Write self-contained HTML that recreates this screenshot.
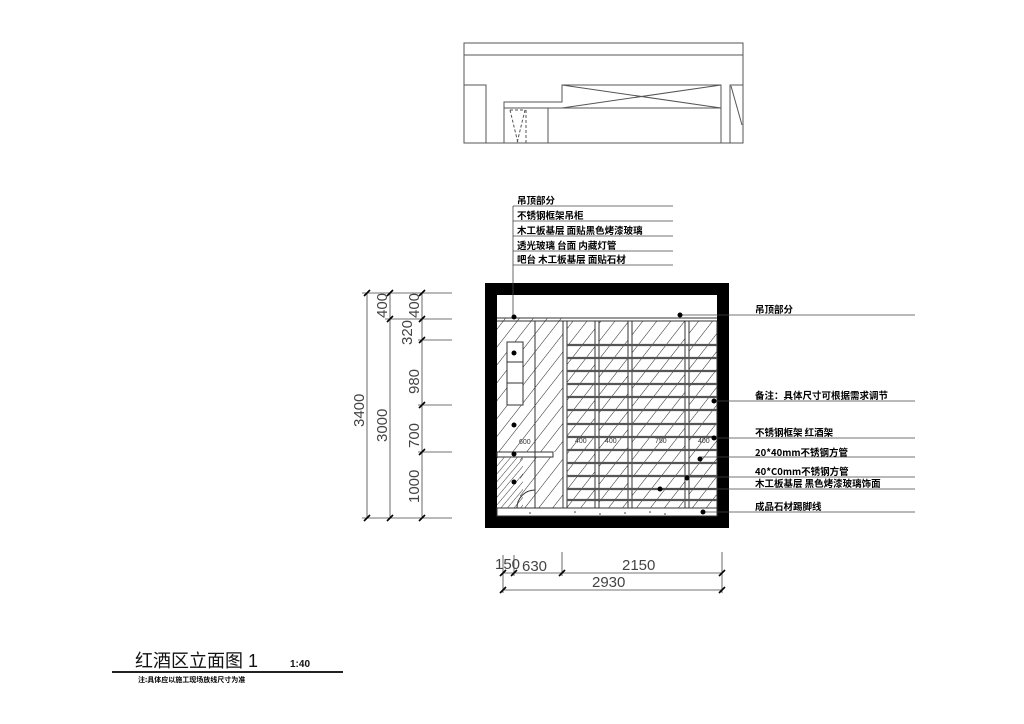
<!DOCTYPE html>
<html><head><meta charset="utf-8"><style>
html,body{margin:0;padding:0;background:#fff;}
svg{display:block}
text{font-family:"Liberation Sans","Noto Sans CJK SC",sans-serif;}
.cn{font-family:"Noto Sans CJK SC","Noto Serif CJK SC",sans-serif;font-weight:bold;font-size:9.5px;fill:#000}
.dim{font-size:15px;fill:#444}
</style></head><body>
<svg width="1024" height="724" viewBox="0 0 1024 724" xmlns="http://www.w3.org/2000/svg">
<defs>
<pattern id="h" width="11" height="11" patternUnits="userSpaceOnUse" patternTransform="rotate(38)"><line x1="0" y1="0" x2="0" y2="11" stroke="#222" stroke-width="1"/></pattern>
<pattern id="hd" width="5" height="5" patternUnits="userSpaceOnUse" patternTransform="rotate(40)"><line x1="0" y1="0" x2="0" y2="5" stroke="#222" stroke-width="0.9"/></pattern>
</defs>
<rect width="1024" height="724" fill="#fff"/>
<g stroke="#555" stroke-width="1" fill="none">
<rect x="464" y="43" width="279" height="100"/>
<line x1="464" y1="55" x2="743" y2="55"/>
<polyline points="464,85 486,85 486,143"/>
<polyline points="504,143 504,102 562,102 562,85 721,85 721,143"/>
<line x1="562" y1="108" x2="721" y2="108"/>
<line x1="562" y1="85" x2="721" y2="108"/><line x1="562" y1="108" x2="721" y2="85"/>
<line x1="548" y1="108" x2="548" y2="143"/>
<line x1="504" y1="108" x2="562" y2="108"/>
<polyline points="730,143 730,85 743,85"/>
<line x1="731" y1="86" x2="742" y2="125"/>
<g stroke-dasharray="3,2"><line x1="510" y1="110" x2="518" y2="143"/><line x1="525" y1="110" x2="517" y2="143"/><line x1="510" y1="110" x2="525" y2="110"/><line x1="526" y1="110" x2="526" y2="143"/></g>
</g>
<rect x="485" y="283" width="244" height="245" fill="#000"/>
<rect x="497" y="295" width="220" height="221" fill="#fff"/>
<rect x="497" y="318" width="68" height="134" fill="url(#h)"/>
<rect x="520" y="457" width="45" height="51" fill="url(#h)"/>
<rect x="497" y="457" width="26" height="51" fill="url(#hd)"/>
<rect x="565" y="321" width="152" height="187" fill="url(#h)"/>
<g stroke="#333" stroke-width="1" fill="none">
<line x1="497" y1="318" x2="717" y2="318"/>
<line x1="497" y1="321" x2="717" y2="321"/>
<rect x="507" y="342" width="16" height="63" fill="#fff"/>
<line x1="507" y1="362" x2="523" y2="362"/><line x1="507" y1="383" x2="523" y2="383"/>
<rect x="497" y="452" width="56" height="5" fill="#fff"/>
<path d="M517,508 A18,18 0 0 1 535,490" />
<line x1="535" y1="321" x2="535" y2="508"/>
</g>
<g stroke="#333" stroke-width="1">
<rect x="563" y="321" width="4" height="187" fill="#fff"/>
<rect x="595" y="321" width="4" height="187" fill="#fff"/>
<rect x="628" y="321" width="4" height="187" fill="#fff"/>
<rect x="685" y="321" width="4" height="187" fill="#fff"/>
<line x1="717" y1="321" x2="717" y2="508"/>
</g>
<g stroke="#555" stroke-width="2.2">
<line x1="567" y1="345" x2="717" y2="345"/><line x1="567" y1="358" x2="717" y2="358"/>
<line x1="567" y1="371" x2="717" y2="371"/><line x1="567" y1="384" x2="717" y2="384"/>
<line x1="567" y1="397" x2="717" y2="397"/><line x1="567" y1="410" x2="717" y2="410"/>
<line x1="567" y1="424" x2="717" y2="424"/><line x1="567" y1="437" x2="717" y2="437"/>
<line x1="567" y1="450" x2="717" y2="450"/><line x1="567" y1="463" x2="717" y2="463"/>
<line x1="567" y1="476" x2="717" y2="476"/><line x1="567" y1="489" x2="717" y2="489"/>
<line x1="567" y1="500" x2="717" y2="500"/>
</g>
<rect x="497" y="508" width="220" height="8" fill="#fff" stroke="#333" stroke-width="1"/>
<g fill="#333"><circle cx="530" cy="513" r="0.8"/><circle cx="575" cy="512" r="0.8"/><circle cx="600" cy="514" r="0.8"/><circle cx="625" cy="513" r="0.8"/><circle cx="650" cy="512" r="0.8"/><circle cx="665" cy="514" r="0.8"/></g>
<g font-size="7" fill="#333"><text x="575" y="443">400</text><text x="605" y="443">400</text><text x="655" y="443">750</text><text x="698" y="443">400</text><text x="519" y="444">600</text></g>
<g stroke="#444" stroke-width="0.8">
<line x1="513" y1="206" x2="513" y2="318"/>
<line x1="513" y1="206" x2="673" y2="206"/><line x1="513" y1="221" x2="673" y2="221"/>
<line x1="513" y1="236" x2="673" y2="236"/><line x1="513" y1="251" x2="673" y2="251"/>
<line x1="513" y1="265" x2="673" y2="265"/>
</g>
<g fill="#000"><circle cx="514" cy="317" r="2.5"/><circle cx="514" cy="353" r="2.5"/><circle cx="514" cy="425" r="2.5"/><circle cx="514" cy="454" r="2.5"/><circle cx="514" cy="482" r="2.5"/></g>
<text class="cn" x="517" y="204">吊顶部分</text>
<text class="cn" x="517" y="219">不锈钢框架吊柜</text>
<text class="cn" x="517" y="234">木工板基层 面贴黑色烤漆玻璃</text>
<text class="cn" x="517" y="249">透光玻璃 台面 内藏灯管</text>
<text class="cn" x="517" y="263">吧台 木工板基层 面贴石材</text>
<g stroke="#444" stroke-width="0.8">
<line x1="680" y1="315" x2="915" y2="315"/>
<line x1="714" y1="401" x2="915" y2="401"/>
<line x1="714" y1="438" x2="915" y2="438"/>
<line x1="700" y1="457" x2="915" y2="457"/>
<line x1="687" y1="477" x2="915" y2="477"/>
<line x1="663" y1="489" x2="915" y2="489"/>
<line x1="703" y1="512" x2="915" y2="512"/>
</g>
<g fill="#000"><circle cx="680" cy="315" r="2.5"/><circle cx="714" cy="401" r="2.5"/><circle cx="714" cy="438" r="2.5"/><circle cx="700" cy="459" r="2.5"/><circle cx="687" cy="478" r="2.5"/><circle cx="660" cy="489" r="2.5"/><circle cx="703" cy="512" r="2.5"/></g>
<text class="cn" x="755" y="313">吊顶部分</text>
<text class="cn" x="755" y="399">备注：具体尺寸可根据需求调节</text>
<text class="cn" x="755" y="436">不锈钢框架  红酒架</text>
<text class="cn" x="755" y="456">20*40mm不锈钢方管</text>
<text class="cn" x="755" y="475">40*C0mm不锈钢方管</text>
<text class="cn" x="755" y="487">木工板基层  黑色烤漆玻璃饰面</text>
<text class="cn" x="755" y="510">成品石材踢脚线</text>
<g stroke="#444" stroke-width="0.8">
<line x1="367" y1="293" x2="367" y2="518"/><line x1="390" y1="293" x2="390" y2="518"/><line x1="422" y1="293" x2="422" y2="518"/>
<line x1="362" y1="293" x2="452" y2="293"/><line x1="385" y1="319" x2="452" y2="319"/>
<line x1="418" y1="340" x2="452" y2="340"/><line x1="418" y1="405" x2="452" y2="405"/>
<line x1="418" y1="452" x2="452" y2="452"/><line x1="362" y1="518" x2="452" y2="518"/>
</g>
<g stroke="#000" stroke-width="1.6">
<line x1="364" y1="296" x2="370" y2="290"/><line x1="387" y1="296" x2="393" y2="290"/><line x1="419" y1="296" x2="425" y2="290"/>
<line x1="387" y1="322" x2="393" y2="316"/><line x1="419" y1="322" x2="425" y2="316"/>
<line x1="419" y1="343" x2="425" y2="337"/><line x1="419" y1="408" x2="425" y2="402"/><line x1="419" y1="455" x2="425" y2="449"/>
<line x1="364" y1="521" x2="370" y2="515"/><line x1="387" y1="521" x2="393" y2="515"/><line x1="419" y1="521" x2="425" y2="515"/>
</g>
<g class="dim">
<text transform="translate(364,427) rotate(-90)">3400</text>
<text transform="translate(387,442) rotate(-90)">3000</text>
<text transform="translate(387,318) rotate(-90)">400</text>
<text transform="translate(419,318) rotate(-90)">400</text>
<text transform="translate(412,345) rotate(-90)">320</text>
<text transform="translate(419,394) rotate(-90)">980</text>
<text transform="translate(419,448) rotate(-90)">700</text>
<text transform="translate(419,503) rotate(-90)">1000</text>
</g>
<g stroke="#444" stroke-width="0.8">
<line x1="503" y1="573" x2="722" y2="573"/><line x1="503" y1="590" x2="722" y2="590"/>
<line x1="503" y1="555" x2="503" y2="593"/><line x1="514" y1="555" x2="514" y2="576"/>
<line x1="562" y1="552" x2="562" y2="576"/><line x1="722" y1="552" x2="722" y2="593"/>
</g>
<g stroke="#000" stroke-width="1.6">
<line x1="500" y1="576" x2="506" y2="570"/><line x1="511" y1="576" x2="517" y2="570"/><line x1="559" y1="576" x2="565" y2="570"/><line x1="719" y1="576" x2="725" y2="570"/>
<line x1="500" y1="593" x2="506" y2="587"/><line x1="719" y1="593" x2="725" y2="587"/>
</g>
<g class="dim"><text x="495" y="569">150</text><text x="522" y="571">630</text><text x="622" y="570">2150</text><text x="592" y="587">2930</text></g>
<text x="135" y="667" font-family="Noto Serif CJK SC,serif" font-size="18" fill="#111">红酒区立面图 1</text>
<text x="290" y="667" font-family="Liberation Serif,serif" font-size="10" font-weight="bold" fill="#111">1:40</text>
<line x1="112" y1="672" x2="343" y2="672" stroke="#222" stroke-width="2"/>
<text class="cn" x="138" y="682" style="font-size:7px">注:具体应以施工现场放线尺寸为准</text>
</svg>
</body></html>
